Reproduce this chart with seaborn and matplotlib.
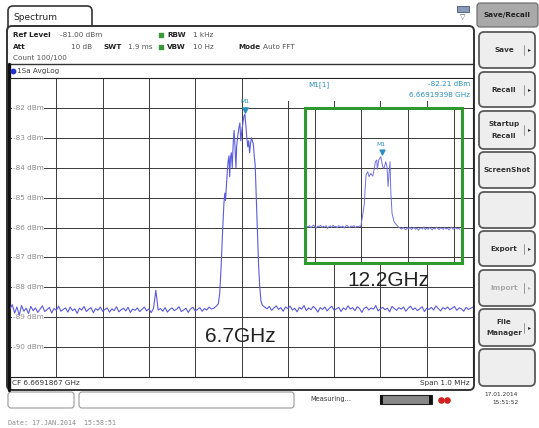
import numpy as np
import pandas as pd
import matplotlib
matplotlib.use("Agg")
import matplotlib.pyplot as plt
import seaborn as sns
from matplotlib.patches import FancyBboxPatch, Rectangle

# --- data (offset from CF in kHz, level in dBm) ---
grid_dbm = [-82, -83, -84, -85, -86, -87, -88, -89, -90]
grid_khz = [-400, -300, -200, -100, 0, 100, 200, 300, 400]

# 6.7 GHz trace: left noise floor, carrier, right noise floor
noise_left_dbm = [
    -88.72, -88.58, -88.86, -88.66, -88.93, -88.61, -88.80, -88.70, -88.88, -88.64,
    -88.78, -88.69, -88.84, -88.73, -88.62, -88.81, -88.75, -88.67, -88.86, -88.71,
    -88.77, -88.63, -88.80, -88.74, -88.69, -88.83, -88.66, -88.78, -88.72, -88.87,
    -88.70, -88.76, -88.64, -88.81, -88.73, -88.68, -88.85, -88.71, -88.77, -88.66,
    -88.80, -88.74, -88.69, -88.83, -88.72, -88.78, -88.65, -88.82, -88.75, -88.70,
    -88.79, -88.67, -88.84, -88.73, -88.77, -88.69, -88.81, -88.74, -88.66, -88.79,
    -88.72, -88.85, -88.70, -88.10, -88.76, -88.71, -88.80, -88.68, -88.83, -88.74,
    -88.69, -88.78, -88.73, -88.65, -88.81, -88.76, -88.70, -88.84, -88.72, -88.67,
    -88.79, -88.74, -88.68, -88.80, -88.71, -88.76, -88.66, -88.73, -88.70, -88.64,
]
noise_left_khz = np.arange(-500, -54, 5)

signal_khz = [-50, -47, -44, -41, -38, -36, -34.5, -33, -31, -29, -27, -25.5, -24, -22,
              -20, -18, -16, -14, -12, -10.5, -8.5, -6, -3.5, -1.5, 0.5, 3, 5, 7.3,
              9.5, 11.5, 13.5, 15.5, 17.5, 19.5, 21.5, 23.5, 25.5, 27.5, 29.5, 31, 33,
              35, 37, 39.5, 42]
signal_dbm = [-88.55, -88.2, -87.3, -86.2, -85.2, -84.85, -85.1, -84.7, -84.2, -83.8,
              -83.6, -84.3, -83.7, -83.5, -84.0, -83.2, -82.75, -83.3, -84.0, -83.3,
              -83.0, -82.7, -82.5, -83.1, -82.8, -82.5, -82.3, -82.21, -82.6, -83.0,
              -83.3, -83.1, -83.5, -83.2, -83.0, -83.1, -83.2, -83.6, -83.9, -84.6,
              -85.5, -86.4, -87.3, -88.0, -88.45]

noise_right_dbm = [
    -88.60, -88.66, -88.72, -88.64, -88.77, -88.69, -88.62, -88.74, -88.68, -88.80,
    -88.66, -88.71, -88.63, -88.76, -88.70, -88.82, -88.67, -88.73, -88.61, -88.78,
    -88.69, -88.75, -88.64, -88.71, -88.83, -88.68, -88.74, -88.66, -88.79, -88.70,
    -88.63, -88.77, -88.72, -88.67, -88.81, -88.69, -88.75, -88.62, -88.73, -88.68,
    -88.78, -88.65, -88.71, -88.84, -88.70, -88.66, -88.76, -88.69, -88.73, -88.61,
    -88.79, -88.72, -88.67, -88.75, -88.70, -88.82, -88.64, -88.71, -88.77, -88.68,
    -88.73, -88.66, -88.80, -88.70, -88.63, -88.75, -88.69, -88.78, -88.72, -88.65,
    -88.81, -88.70, -88.74, -88.67, -88.76, -88.62, -88.71, -88.79, -88.68, -88.73,
    -88.66, -88.75, -88.70, -88.64, -88.77, -88.69, -88.72, -88.80, -88.67, -88.74,
    -88.70, -88.66,
]
noise_right_khz = np.arange(45, 501, 5)

# 12.2 GHz trace (pasted inset)
inset_left_dbm = [
    -85.95, -85.99, -85.94, -86.01, -85.96, -85.92, -85.98, -86.02, -85.95, -85.97,
    -85.93, -86.00, -85.96, -85.99, -85.94, -86.03, -85.97, -85.95, -86.00, -85.93,
    -85.98, -85.96, -86.01, -85.94, -85.97, -85.99, -85.95, -86.02, -85.96, -85.93,
    -85.98, -86.00, -85.95, -85.97, -85.94, -86.01, -85.96, -85.98, -85.95,
]
inset_left_khz = np.arange(-118, -3, 3)
inset_signal_khz = [-1, 0.5, 3.0, 6.6, 8.0, 10.2, 13.8, 16.6, 20.3, 24.6, 27.4, 30.3,
                    33.3, 34.6, 37.6, 41.9, 46.2, 49.0, 52.7, 55.5, 57.7, 59.8, 62.0,
                    63.5, 66.3, 70.6, 76.4, 81]
inset_signal_dbm = [-85.97, -85.81, -85.58, -85.19, -84.75, -84.24, -84.13, -84.30,
                    -84.19, -84.28, -84.08, -83.80, -83.74, -84.05, -83.74, -83.63,
                    -83.97, -84.02, -83.80, -83.97, -84.63, -84.19, -83.80, -84.75,
                    -85.53, -85.81, -85.92, -86.00]
inset_right_dbm = [
    -86.02, -86.06, -86.00, -86.04, -86.08, -86.01, -86.05, -85.99, -86.07, -86.03,
    -86.00, -86.06, -86.02, -86.09, -86.04, -86.01, -86.05, -85.98, -86.07, -86.03,
    -86.06, -86.00, -86.04, -86.08, -86.02, -86.05, -85.99, -86.03, -86.07, -86.01,
    -86.04, -86.06, -86.00, -86.05, -86.02, -86.08, -86.03, -85.99, -86.06, -86.04,
    -86.01, -86.05, -86.03, -86.07,
]
inset_right_khz = np.arange(84, 214, 3)

marker_main = (7.3, -82.21)
marker_inset = (41.9, -83.63)

main_df = pd.DataFrame({
    "khz": np.concatenate([noise_left_khz, signal_khz, noise_right_khz]),
    "dbm": np.concatenate([noise_left_dbm, signal_dbm, noise_right_dbm]),
})
inset_df = pd.DataFrame({
    "khz": np.concatenate([inset_left_khz, inset_signal_khz, inset_right_khz]),
    "dbm": np.concatenate([inset_left_dbm, inset_signal_dbm, inset_right_dbm]),
})

# --- figure ---
sns.set_style("white")
plt.rcParams["font.family"] = ["DejaVu Sans"]

W, H = 539, 428
fig = plt.figure(figsize=(W / 100, H / 100), dpi=100)


def box(x0, y0, x1, y1):
    return [x0 / W, 1 - y1 / H, (x1 - x0) / W, (y1 - y0) / H]


def pixel_axes(z):
    ax = fig.add_axes([0, 0, 1, 1], zorder=z)
    ax.set_xlim(0, W)
    ax.set_ylim(H, 0)
    ax.axis("off")
    ax.patch.set_alpha(0)
    return ax


def rbox(ax, x0, y0, x1, y1, fc, ec, lw=1.0, r=4, z=1):
    ax.add_patch(FancyBboxPatch((x0, y0), x1 - x0, y1 - y0,
                                boxstyle=f"round,pad=0,rounding_size={r}",
                                fc=fc, ec=ec, lw=lw, zorder=z))


bg = pixel_axes(0)

# instrument frame and header
rbox(bg, 8, 6, 92, 32, "white", "#333333", lw=1.2, r=5)
rbox(bg, 7, 26, 474, 390, "white", "#333333", lw=1.4, r=5)
bg.add_patch(Rectangle((9, 27.5), 82, 6, fc="white", ec="none", zorder=2))
bg.text(13, 17, "Spectrum", fontsize=6.5, va="center", color="#222222")
bg.plot([8, 474], [64, 64], color="#333333", lw=1.0)
bg.plot([9, 9], [64, 390], color="#111111", lw=2.4)

hfs = 5.2
bg.text(13, 35, "Ref Level", fontsize=hfs, weight="bold", va="center", color="#222")
bg.text(60, 35, "-81.00 dBm", fontsize=hfs, va="center", color="#555")
bg.text(13, 47, "Att", fontsize=hfs, weight="bold", va="center", color="#222")
bg.text(92, 47, "10 dB", fontsize=hfs, va="center", ha="right", color="#555")
bg.text(103, 47, "SWT", fontsize=hfs, weight="bold", va="center", color="#222")
bg.text(128, 47, "1.9 ms", fontsize=hfs, va="center", color="#555")
for yy, lab, val in [(35, "RBW", "1 kHz"), (47, "VBW", "10 Hz")]:
    bg.scatter([161], [yy], s=7, color="#3a9a3a", marker="s", zorder=3)
    bg.text(167, yy, lab, fontsize=hfs, weight="bold", va="center", color="#222")
    bg.text(193, yy, val, fontsize=hfs, va="center", color="#555")
bg.text(238, 47, "Mode", fontsize=hfs, weight="bold", va="center", color="#222")
bg.text(263, 47, "Auto FFT", fontsize=hfs, va="center", color="#555")
bg.text(13, 58, "Count 100/100", fontsize=hfs, va="center", color="#555")
bg.scatter([13], [71], s=10, color="#2233cc", zorder=3)
bg.text(17, 71, "1Sa AvgLog", fontsize=hfs, va="center", color="#444")
bg.text(12, 383, "CF 6.6691867 GHz", fontsize=hfs, va="center", color="#333")
bg.text(470, 383, "Span 1.0 MHz", fontsize=hfs, va="center", ha="right", color="#333")

# small keyboard icon
bg.add_patch(Rectangle((457, 6), 12, 6, fc="#8899bb", ec="#445577", lw=0.6))
bg.text(463, 17, "\u25bd", fontsize=5, ha="center", va="center", color="#445577")

# softkey column
rbox(bg, 477, 3, 538, 27, "#a9a9a9", "#666666", lw=0.8, r=3)
bg.text(507, 15, "Save/Recall", fontsize=5.2, weight="bold", ha="center",
        va="center", color="#222")
keys = [
    (32, 68, ["Save"], True, "#333"),
    (72, 107, ["Recall"], True, "#333"),
    (111, 149, ["Startup", "Recall"], True, "#333"),
    (152, 188, ["ScreenShot"], False, "#333"),
    (192, 228, [], False, "#333"),
    (231, 266, ["Export"], True, "#333"),
    (270, 306, ["Import"], True, "#aaaaaa"),
    (309, 346, ["File", "Manager"], True, "#333"),
    (349, 386, [], False, "#333"),
]
for y0, y1, lines, arrow, tc in keys:
    rbox(bg, 479, y0, 535, y1, "#eeeeee", "#5a5a5a", lw=1.3, r=5)
    cy = (y0 + y1) / 2
    if len(lines) == 1:
        cx = 504 if arrow else 507
        bg.text(cx, cy, lines[0], fontsize=5.2, weight="bold", ha="center",
                va="center", color=tc)
    elif len(lines) == 2:
        bg.text(504, cy - 6, lines[0], fontsize=5.2, weight="bold", ha="center",
                va="center", color=tc)
        bg.text(504, cy + 6, lines[1], fontsize=5.2, weight="bold", ha="center",
                va="center", color=tc)
    if arrow:
        bg.plot([524, 524], [cy - 5, cy + 5], color="#888", lw=0.6)
        bg.text(529.5, cy, "\u25b8", fontsize=4.5, ha="center", va="center", color=tc)

# status line
rbox(bg, 8, 392, 74, 408, "white", "#999999", lw=0.8, r=3)
rbox(bg, 79, 392, 294, 408, "white", "#999999", lw=0.8, r=3)
bg.text(310, 399, "Measuring...", fontsize=4.8, va="center", color="#333")
bg.add_patch(Rectangle((380, 395), 52, 9, fc="#888888", ec="#222222", lw=0.8))
bg.add_patch(Rectangle((380, 395), 3, 9, fc="#111111", ec="none"))
bg.add_patch(Rectangle((429, 395), 3, 9, fc="#111111", ec="none"))
bg.scatter([441, 447], [399.5, 399.5], s=14, color="#d02020", marker="o", zorder=3)
bg.text(501, 395, "17.01.2014", fontsize=4.2, ha="center", va="center", color="#333")
bg.text(506, 403, "15:51:52", fontsize=4.2, ha="center", va="center", color="#333")
bg.text(8, 423, "Date: 17.JAN.2014  15:58:51", fontsize=4.8, va="center",
        color="#888888", family="DejaVu Sans Mono")

# --- main trace window ---
main = fig.add_axes(box(10, 78, 473, 377), zorder=1)
main.set_facecolor("white")
sns.lineplot(data=main_df, x="khz", y="dbm", ax=main, color="#5a5ae0", lw=0.8,
             sort=False, estimator=None, zorder=3)
main.set_xlim(-500, 500)
main.set_ylim(-91, -81)
main.set_xticks(grid_khz)
main.set_yticks(grid_dbm)
main.grid(True, color="#3a3a3a", lw=0.7)
main.set_axisbelow(True)
main.tick_params(length=0, labelbottom=False, labelleft=False)
main.set_xlabel("")
main.set_ylabel("")
for s in main.spines.values():
    s.set_color("#222222")
    s.set_linewidth(0.8)
for v in grid_dbm:
    main.text(-494, v, f"{v} dBm", fontsize=5.2, va="center", color="#8a8a8a",
              zorder=2, bbox=dict(fc="white", ec="none", pad=0.6))
main.scatter([marker_main[0]], [marker_main[1] + 0.15], marker="v", s=14,
             color="#2a8fc0", zorder=4)
main.text(marker_main[0], marker_main[1] + 0.42, "M1", fontsize=4.5,
          ha="center", va="center", color="#2a8fc0", zorder=4)

# --- pasted 12.2 GHz window ---
ins = fig.add_axes(box(305, 108, 462, 263), zorder=3)
ins.set_facecolor("white")
sns.lineplot(data=inset_df, x="khz", y="dbm", ax=ins, color="#7070e6", lw=0.7,
             sort=False, estimator=None, zorder=3)
ins.set_xlim(-121.6, 217.3)
ins.set_ylim(-87.19, -82.0)
ins.set_xticks([-100, 0, 100, 200])
ins.set_yticks([-83, -84, -85, -86, -87])
ins.grid(True, color="#3a3a3a", lw=0.7)
ins.set_axisbelow(True)
ins.tick_params(length=0, labelbottom=False, labelleft=False)
ins.set_xlabel("")
ins.set_ylabel("")
for s in ins.spines.values():
    s.set_color("#2e9a2e")
    s.set_linewidth(2.2)
ins.scatter([marker_inset[0] + 2], [marker_inset[1] + 0.17], marker="v", s=12,
            color="#2a8fc0", zorder=4)
ins.text(marker_inset[0], marker_inset[1] + 0.42, "M1", fontsize=4.3,
         ha="center", va="center", color="#2a8fc0", zorder=4)

# --- overlay: marker readout and band labels ---
top = pixel_axes(5)
top.add_patch(Rectangle((258, 78.6), 214, 22, fc="white", ec="none"))
top.text(308, 85, "M1[1]", fontsize=5.2, va="center", color="#2a8fc0")
top.text(470, 84, "-82.21 dBm", fontsize=5.2, ha="right", va="center", color="#2a8fc0")
top.text(470, 95, "6.66919398 GHz", fontsize=5.2, ha="right", va="center", color="#2a8fc0")
top.text(240, 337, "6.7GHz", fontsize=15, ha="center", va="center",
         color="#222222", family="Liberation Sans")
top.text(388, 281, "12.2GHz", fontsize=15, ha="center", va="center",
         color="#222222", family="Liberation Sans")

fig.savefig("out.png", dpi=100)
